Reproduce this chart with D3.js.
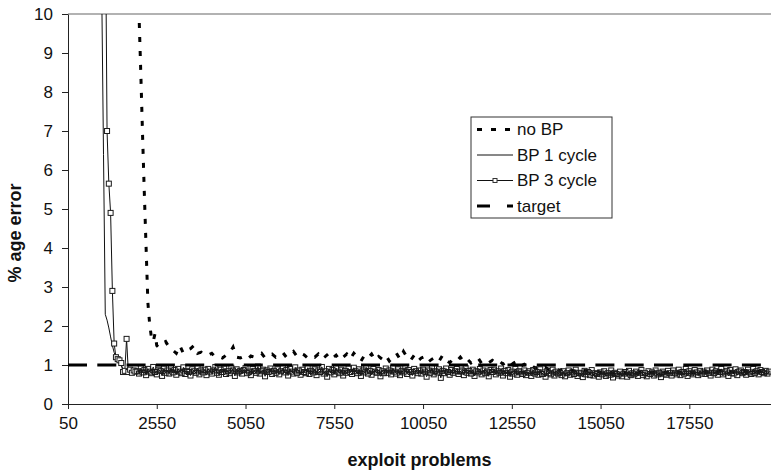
<!DOCTYPE html>
<html>
<head>
<meta charset="utf-8">
<script src="https://cdn.jsdelivr.net/npm/d3@7"></script>
<style>
  body { margin: 0; background: #fff; }
  svg { display: block; }
  text { font-family: "Liberation Sans", Arial, sans-serif; fill: #111; }
</style>
</head>
<body>
<div id="chart"></div>
<script>
// tick labels
var yTicks = [0, 1, 2, 3, 4, 5, 6, 7, 8, 9, 10];
var xTicks = [50, 2550, 5050, 7550, 10050, 12550, 15050, 17550];

// steep start of each run, [exploit problems, % error], every 50
var noBPHead = [[1950, 13], [2000, 11.8], [2050, 10.0], [2100, 8.5], [2150, 6.9], [2200, 5.4], [2250, 4.0],
    [2300, 2.6], [2350, 2.05], [2400, 1.7], [2450, 1.6], [2500, 1.8], [2550, 1.5]];
var bp1Head = [[950, 25], [1000, 10.6], [1050, 6.4], [1100, 2.3], [1150, 2.15], [1200, 1.95], [1250, 1.72],
    [1300, 1.5], [1350, 1.32], [1400, 1.2], [1450, 1.1], [1500, 1.03], [1550, 0.97], [1600, 0.9],
    [1650, 0.86], [1700, 0.88], [1750, 0.84], [1800, 0.87], [1850, 0.83], [1900, 0.86], [1950, 0.82]];
var bp3Head = [[1100, 13], [1150, 7.0], [1200, 5.65], [1250, 4.9], [1300, 2.9], [1350, 1.55], [1400, 1.2],
    [1450, 1.15], [1500, 1.12], [1550, 1.05], [1600, 0.82], [1650, 0.85], [1700, 1.67], [1750, 0.82],
    [1800, 0.88], [1850, 0.8], [1900, 0.86], [1950, 0.83]];

// the rest of each run
var noBPStart = 2600, noBPStep = 100;
var noBPTail = [
    1.45, 1.55, 1.6, 1.45,
    1.38, 1.3, 1.5, 1.3, 1.38, 1.42, 1.5, 1.3, 1.33, 1.25,
    1.25, 1.3, 1.2, 1.22, 1.18, 1.25, 1.3, 1.46, 1.2, 1.18,
    1.22, 1.15, 1.23, 1.2, 1.25, 1.3, 1.18, 1.22, 1.28, 1.2,
    1.25, 1.32, 1.2, 1.28, 1.35, 1.22, 1.3, 1.26, 1.18, 1.24,
    1.2, 1.28, 1.15, 1.22, 1.3, 1.18, 1.25, 1.12, 1.2, 1.28,
    1.15, 1.3, 1.2, 1.1, 1.25, 1.18, 1.28, 1.12, 1.22, 1.15,
    1.25, 1.1, 1.2, 1.3, 1.15, 1.35, 1.2, 1.12, 1.25, 1.1,
    1.18, 1.22, 1.08, 1.15, 1.2, 1.1, 1.25, 1.12, 1.06, 1.15,
    1.1, 1.2, 1.08, 1.15, 1.05, 1.12, 1.18, 1.04, 1.1, 1.06,
    1.12, 1.05, 1.1, 1.02, 1.08, 0.98, 1.05, 1.1, 0.97, 1.02,
    0.95, 1.0, 0.92, 0.96, 0.9, 0.94, 0.88, 0.92, 0.9, 0.86,
    0.9, 0.85, 0.88, 0.84, 0.87, 0.83, 0.86, 0.84, 0.82, 0.86,
    0.83, 0.8, 0.84, 0.81, 0.79, 0.83, 0.8, 0.82, 0.78, 0.81,
    0.82, 0.79, 0.83, 0.8, 0.78, 0.82, 0.81, 0.79, 0.83, 0.8,
    0.81, 0.84, 0.8, 0.82, 0.79, 0.83, 0.81, 0.8, 0.84, 0.82,
    0.83, 0.8, 0.84, 0.81, 0.85, 0.82, 0.8, 0.83, 0.81, 0.84,
    0.82, 0.85, 0.81, 0.83, 0.8, 0.84, 0.82, 0.85, 0.83
];
var bp1Start = 2000, bp1Step = 100;
var bp1Tail = [
    0.85, 0.8, 0.9, 0.81, 0.87, 0.78, 0.89, 0.8, 0.86, 0.82,
    0.88, 0.79, 0.84, 0.9, 0.8, 0.86, 0.77, 0.87, 0.83, 0.8,
    0.89, 0.81, 0.86, 0.77, 0.85, 0.88, 0.79, 0.86, 0.81, 0.9,
    0.79, 0.87, 0.83, 0.78, 0.88, 0.81, 0.86, 0.79, 0.91, 0.83,
    0.8, 0.88, 0.77, 0.86, 0.82, 0.9, 0.79, 0.84, 0.88, 0.78,
    0.86, 0.8, 0.89, 0.79, 0.85, 0.76, 0.88, 0.81, 0.86, 0.79,
    0.84, 0.89, 0.78, 0.86, 0.81, 0.9, 0.79, 0.84, 0.77, 0.87,
    0.81, 0.88, 0.79, 0.85, 0.78, 0.87, 0.81, 0.9, 0.79, 0.85,
    0.78, 0.85, 0.8, 0.88, 0.76, 0.83, 0.87, 0.78, 0.85, 0.8,
    0.83, 0.77, 0.87, 0.8, 0.85, 0.75, 0.84, 0.79, 0.86, 0.77,
    0.82, 0.86, 0.76, 0.84, 0.79, 0.77, 0.85, 0.74, 0.83, 0.78,
    0.76, 0.83, 0.74, 0.82, 0.79, 0.73, 0.81, 0.77, 0.84, 0.75,
    0.8, 0.73, 0.79, 0.83, 0.72, 0.8, 0.76, 0.82, 0.72, 0.79,
    0.75, 0.81, 0.72, 0.78, 0.71, 0.8, 0.76, 0.73, 0.8, 0.71,
    0.78, 0.73, 0.8, 0.71, 0.76, 0.82, 0.73, 0.78, 0.72, 0.8,
    0.76, 0.82, 0.73, 0.8, 0.77, 0.83, 0.75, 0.8, 0.73, 0.81,
    0.77, 0.83, 0.75, 0.81, 0.78, 0.73, 0.82, 0.77, 0.84, 0.75,
    0.81, 0.76, 0.83, 0.75, 0.81, 0.78, 0.84, 0.76, 0.8
];
var bp3Start = 2000, bp3Step = 50;
var bp3Tail = [
    0.84, 0.78, 0.92, 0.81, 0.87, 0.74, 0.9, 0.83, 0.79, 0.95, 0.82, 0.76, 0.88, 0.85, 0.72, 0.91, 0.8, 0.86, 0.78, 0.93,
    0.81, 0.87, 0.75, 0.9, 0.83, 0.79, 0.94, 0.77, 0.85, 0.82, 0.73, 0.89, 0.84, 0.8, 0.92, 0.76, 0.86, 0.81, 0.88, 0.74,
    0.9, 0.83, 0.78, 0.86, 0.95, 0.8, 0.75, 0.88, 0.82, 0.91, 0.77, 0.84, 0.79, 0.93, 0.86, 0.72, 0.89, 0.81, 0.85, 0.78,
    0.87, 0.92, 0.79, 0.83, 0.74, 0.9, 0.85, 0.8, 0.96, 0.78, 0.84, 0.88, 0.71, 0.86, 0.82, 0.91, 0.77, 0.85, 0.8, 0.89,
    0.76, 0.84, 0.92, 0.81, 0.87, 0.73, 0.9, 0.83, 0.78, 0.94, 0.8, 0.86, 0.75, 0.88, 0.82, 0.79, 0.93, 0.77, 0.85, 0.81,
    0.89, 0.74, 0.86, 0.82, 0.95, 0.78, 0.84, 0.7, 0.9, 0.81, 0.87, 0.76, 0.92, 0.83, 0.79, 0.88, 0.73, 0.85, 0.8, 0.91,
    0.82, 0.77, 0.93, 0.84, 0.79, 0.89, 0.72, 0.86, 0.81, 0.94, 0.78, 0.85, 0.75, 0.9, 0.83, 0.8, 0.87, 0.71, 0.84, 0.79,
    0.91, 0.8, 0.86, 0.76, 0.92, 0.83, 0.78, 0.89, 0.74, 0.85, 0.81, 0.94, 0.77, 0.87, 0.82, 0.73, 0.9, 0.84, 0.79, 0.86,
    0.78, 0.88, 0.83, 0.7, 0.86, 0.8, 0.93, 0.76, 0.84, 0.81, 0.89, 0.67, 0.85, 0.79, 0.91, 0.82, 0.75, 0.87, 0.8, 0.84,
    0.9, 0.77, 0.83, 0.86, 0.74, 0.92, 0.8, 0.85, 0.78, 0.88, 0.72, 0.84, 0.81, 0.9, 0.76, 0.86, 0.79, 0.83, 0.71, 0.87,
    0.82, 0.88, 0.76, 0.84, 0.8, 0.91, 0.73, 0.85, 0.79, 0.87, 0.7, 0.83, 0.78, 0.9, 0.75, 0.84, 0.81, 0.77, 0.86, 0.74,
    0.8, 0.84, 0.72, 0.87, 0.78, 0.82, 0.75, 0.89, 0.77, 0.81, 0.7, 0.85, 0.79, 0.76, 0.88, 0.73, 0.83, 0.78, 0.8, 0.74,
    0.84, 0.71, 0.79, 0.86, 0.75, 0.81, 0.77, 0.88, 0.72, 0.8, 0.78, 0.69, 0.85, 0.76, 0.82, 0.74, 0.87, 0.73, 0.79, 0.77,
    0.7, 0.81, 0.76, 0.84, 0.72, 0.79, 0.75, 0.86, 0.68, 0.8, 0.77, 0.73, 0.83, 0.71, 0.78, 0.82, 0.7, 0.85, 0.74, 0.79,
    0.76, 0.83, 0.72, 0.8, 0.87, 0.74, 0.79, 0.71, 0.84, 0.77, 0.81, 0.73, 0.86, 0.76, 0.8, 0.69, 0.83, 0.78, 0.75, 0.85,
    0.79, 0.73, 0.86, 0.8, 0.76, 0.88, 0.74, 0.82, 0.78, 0.9, 0.72, 0.84, 0.79, 0.76, 0.87, 0.81, 0.74, 0.85, 0.78, 0.83,
    0.77, 0.86, 0.8, 0.73, 0.88, 0.79, 0.84, 0.75, 0.82, 0.9, 0.76, 0.81, 0.85, 0.72, 0.87, 0.8, 0.78, 0.89, 0.74, 0.83,
    0.86, 0.79, 0.82, 0.75, 0.88, 0.81, 0.77, 0.9, 0.8, 0.84, 0.76, 0.87, 0.82, 0.79, 0.85, 0.78, 0.83
];
var targetValue = 1;

function buildSeries(head, start, step, tail) {
    var pts = head.map(function(d) { return { x: d[0], y: d[1] }; });
    tail.forEach(function(v, i) { pts.push({ x: start + i * step, y: v }); });
    return pts;
}
var noBP = buildSeries(noBPHead, noBPStart, noBPStep, noBPTail);
var bp1 = buildSeries(bp1Head, bp1Start, bp1Step, bp1Tail);
var bp3 = buildSeries(bp3Head, bp3Start, bp3Step, bp3Tail);

var totalWidth = 771, totalHeight = 473;
var margin = { top: 14, right: 0, bottom: 69, left: 68 };
var width = totalWidth - margin.left - margin.right;
var height = totalHeight - margin.top - margin.bottom;

var svg = d3.select('#chart').append('svg')
    .attr('width', totalWidth)
    .attr('height', totalHeight);

var g = svg.append('g').attr('transform', 'translate(' + margin.left + ',' + margin.top + ')');

var xScale = d3.scaleLinear().domain([50, 19850]).range([0, width]);
var yScale = d3.scaleLinear().domain([0, 10]).range([height, 0]);

svg.append('defs').append('clipPath').attr('id', 'plotClip')
    .append('rect').attr('x', 0).attr('y', 0).attr('width', width).attr('height', height);

// grey top border of plot area
g.append('line')
    .attr('x1', 0).attr('x2', width)
    .attr('y1', yScale(10)).attr('y2', yScale(10))
    .attr('stroke', '#999').attr('stroke-width', 1.5);

var yAxis = d3.axisLeft(yScale).tickValues(yTicks).tickSizeInner(6).tickSizeOuter(0).tickPadding(9);
var yAxisGroup = g.append('g').call(yAxis);
yAxisGroup.selectAll('path').attr('stroke', '#222');
yAxisGroup.selectAll('line').attr('stroke', '#222');
yAxisGroup.selectAll('text').attr('font-size', 17).attr('fill', '#111')
    .style('font-family', '"Liberation Sans", Arial, sans-serif');

var xAxis = d3.axisBottom(xScale).tickValues(xTicks).tickSizeInner(5).tickSizeOuter(0).tickPadding(8)
    .tickFormat(d3.format('d'));
var xAxisGroup = g.append('g').attr('transform', 'translate(0,' + height + ')').call(xAxis);
xAxisGroup.selectAll('path').attr('stroke', '#222');
xAxisGroup.selectAll('line').attr('stroke', '#222');
xAxisGroup.selectAll('text').attr('font-size', 17).attr('fill', '#111')
    .style('font-family', '"Liberation Sans", Arial, sans-serif');

var line = d3.line().x(d => xScale(d.x)).y(d => yScale(d.y));
var plot = g.append('g').attr('clip-path', 'url(#plotClip)');

plot.append('path').datum(noBP)
    .attr('d', line).attr('fill', 'none')
    .attr('stroke', '#000').attr('stroke-width', 3)
    .attr('stroke-dasharray', '5,9');

plot.append('path').datum(bp1)
    .attr('d', line).attr('fill', 'none')
    .attr('stroke', '#111').attr('stroke-width', 1);

plot.append('path').datum(bp3)
    .attr('d', line).attr('fill', 'none')
    .attr('stroke', '#111').attr('stroke-width', 1);

// open square markers; the head ones are white inside, the dense tail is left hollow
plot.selectAll('rect.marker')
    .data(bp3)
    .enter()
    .append('rect')
    .classed('marker', true)
    .attr('x', d => xScale(d.x) - 2.5)
    .attr('y', d => yScale(d.y) - 2.5)
    .attr('width', 5).attr('height', 5)
    .attr('fill', d => d.x < bp3Start ? '#fff' : 'none')
    .attr('stroke', '#1a1a1a').attr('stroke-width', 1);

plot.append('line')
    .attr('x1', 0).attr('x2', width)
    .attr('y1', yScale(targetValue)).attr('y2', yScale(targetValue))
    .attr('stroke', '#000').attr('stroke-width', 3)
    .attr('stroke-dasharray', '19,10.3');

// axis titles
svg.append('text')
    .attr('x', margin.left + width / 2).attr('y', 466)
    .attr('text-anchor', 'middle')
    .attr('font-size', 18).attr('font-weight', 'bold')
    .text('exploit problems');

svg.append('text')
    .attr('transform', 'translate(21,233) rotate(-90)')
    .attr('text-anchor', 'middle')
    .attr('font-size', 18).attr('font-weight', 'bold')
    .text('% age error');

// legend
var legendItems = ['no BP', 'BP 1 cycle', 'BP 3 cycle', 'target'];
var legend = svg.append('g').attr('transform', 'translate(471,117)');
legend.append('rect')
    .attr('width', 141).attr('height', 101)
    .attr('fill', '#fff').attr('stroke', '#333').attr('stroke-width', 1);

legendItems.forEach(function(name, i) {
    var row = legend.append('g').attr('transform', 'translate(0,' + (12.5 + i * 25.5) + ')');
    var sample = row.append('line').attr('x1', 6).attr('x2', 42).attr('y1', 0).attr('y2', 0);
    if (i === 0) {
        sample.attr('stroke', '#000').attr('stroke-width', 3).attr('stroke-dasharray', '5,9');
    } else if (i === 3) {
        sample.attr('stroke', '#000').attr('stroke-width', 3).attr('stroke-dasharray', '13,17');
    } else {
        sample.attr('stroke', '#111').attr('stroke-width', 1);
    }
    if (i === 2) {
        row.append('rect').attr('x', 22).attr('y', -2).attr('width', 4).attr('height', 4)
            .attr('fill', '#fff').attr('stroke', '#333').attr('stroke-width', 1);
    }
    row.append('text')
        .attr('x', 46).attr('y', 0)
        .attr('dy', '0.35em')
        .attr('font-size', 17)
        .text(name);
});
</script>
</body>
</html>
